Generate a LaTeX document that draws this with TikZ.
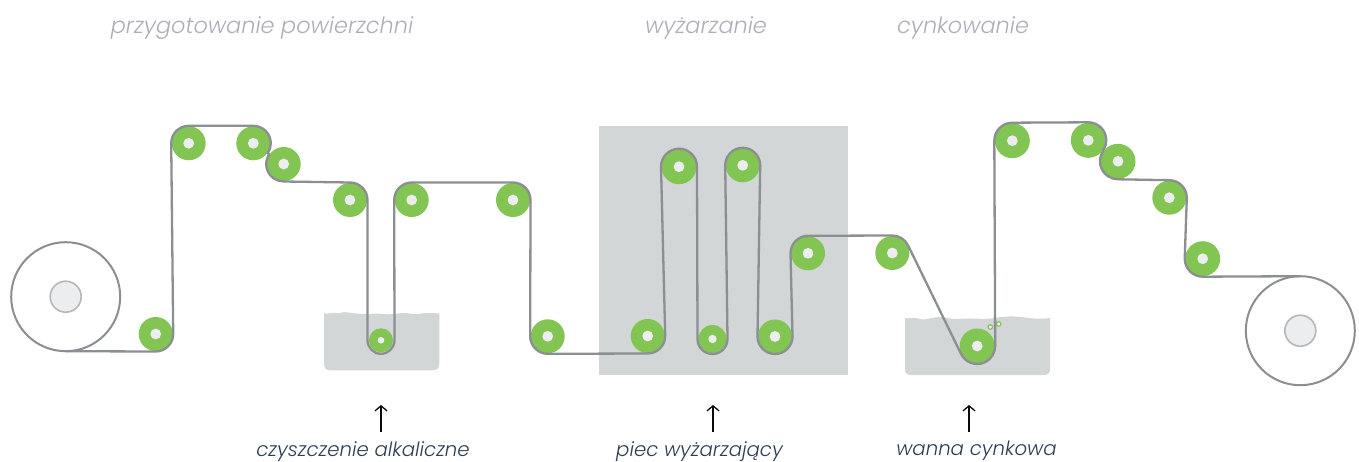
\documentclass[tikz,border=0pt]{standalone}
\usepackage{fontspec}
\setmainfont{Poppins}
\newfontfamily\lab{Poppins Light}[ItalicFont={Poppins Light Italic}]
\definecolor{beltc}{HTML}{8B8E92}
\definecolor{rollc}{HTML}{82C552}
\definecolor{holec}{HTML}{EBEDEE}
\definecolor{bathc}{HTML}{D2D6D6}
\definecolor{titlec}{HTML}{AEAEB9}
\definecolor{navyc}{HTML}{2C3E50}
\definecolor{hubc}{HTML}{B4B8BA}
\usetikzlibrary{arrows.meta}
\tikzset{
  x=1pt,y=1pt,
  roller/.style={circle,fill=rollc,inner sep=0pt,minimum size=#1,outer sep=0.5pt,
    path picture={\fill[holec] (path picture bounding box.center) circle (5.4pt);}},
  roller/.default=34pt,
  reel/.style={circle,draw=beltc,fill=white,line width=2pt,inner sep=0pt,minimum size=109pt,outer sep=0pt},
  hub/.style={circle,draw=hubc,fill=holec,line width=1.6pt,inner sep=0pt,minimum size=31pt},
  beltline/.style={draw=beltc,line width=2.3pt,line join=round,line cap=round},
  title/.style={font=\fontsize{22.4}{27}\selectfont\lab\itshape,text=titlec,inner sep=0pt},
  caption/.style={font=\fontsize{19.7}{25}\selectfont\lab\itshape,text=navyc,inner sep=0pt},
  uparrow/.style={draw=black!85!navyc,line width=1.3pt,-{Straight Barb[length=5pt,width=12pt]}},
}
\begin{document}
\begin{tikzpicture}
\useasboundingbox (0,0) rectangle (1359,461);
% baths
\fill[bathc] (598.7,85.7) rectangle (848,335.3);
\fill[bathc] (324,148) .. controls (327,146) and (331,149) .. (336,148) .. controls (340,146.5) and (342,150) .. (348,148.5) .. controls (362,146) and (372,148) .. (384,147) .. controls (392,146) and (398,148) .. (404,148) .. controls (408,148.5) and (412,146) .. (418,147) .. controls (426,148.5) and (432,148) .. (439.3,147.5) -- (439.3,97) .. controls (439.3,93) and (437,90.7) .. (433,90.7) -- (330,90.7) .. controls (326,90.7) and (324,93) .. (324,97) -- cycle;
\fill[bathc] (905,143) .. controls (908,141.5) and (912,144.5) .. (918,142.5) .. controls (924,140) and (930,143) .. (935,143.5) .. controls (945,145) and (950,141) .. (960,142) .. controls (970,143.5) and (985,141) .. (995,143) .. controls (1005,145) and (1015,145) .. (1025,143.5) .. controls (1035,142) and (1042,142) .. (1050,143) -- (1050,92) .. controls (1050,88) and (1048,86) .. (1044,86) -- (911,86) .. controls (907,86) and (905,88) .. (905,92) -- cycle;
% reels
\node[reel] (reelL) at (65.7,164.3) {};
\node[hub] (hubL) at (reelL.center) {};
\node[reel] (reelR) at (1300.3,130.3) {};
\node[hub] (hubR) at (reelR.center) {};
% rollers
\node[roller] (A1) at (155.7,127) {};
\node[roller] (A2) at (188.7,317.7) {};
\node[roller] (A3) at (253.3,317.7) {};
\node[roller] (A4) at (283.7,297) {};
\node[roller] (A5) at (350,261) {};
\node[roller=24pt,outer sep=1.5pt,path picture={\fill[holec] (path picture bounding box.center) circle (3.3pt);}] (S1) at (381,120.7) {};
\node[roller] (A6) at (411.7,261) {};
\node[roller] (A7) at (513,261) {};
\node[roller] (A8) at (547.7,124.7) {};
\node[roller] (F1) at (647.7,125) {};
\node[roller=35pt] (F2) at (679,294.3) {};
\node[roller=28pt,outer sep=1pt,path picture={\fill[holec] (path picture bounding box.center) circle (4.2pt);}] (F3) at (712.5,122) {};
\node[roller] (F4) at (742.7,295.7) {};
\node[roller] (F5) at (775,124.5) {};
\node[roller] (F6) at (808,207.7) {};
\node[roller] (G1) at (892.3,208) {};
\node[roller=35pt] (Z1) at (977.2,115) {};
\node[roller=35pt] (B1) at (1012.3,320.3) {};
\node[roller=35pt] (B2) at (1088.3,320.7) {};
\node[roller=35pt] (B3) at (1118,299.7) {};
\node[roller] (B4) at (1169.3,263.3) {};
\node[roller=35pt] (B5) at (1202.7,202.3) {};
% bubbles
\node[circle,draw=rollc,fill=holec,line width=1.2pt,minimum size=4.5pt,inner sep=0pt] (bub1) at (990.3,134) {};
\node[circle,draw=rollc,fill=holec,line width=1.2pt,minimum size=4.5pt,inner sep=0pt] (bub2) at (998.7,137) {};
% strip
\path[beltline]
 (reelL.south) -- (A1.south) arc[start angle=-90,end angle=0,radius=17.5]
 -- (A2.west) arc[start angle=180,end angle=90,radius=17.5]
 -- (A3.north) arc[start angle=90,end angle=-34,radius=17.5]
 -- (A4.146) arc[start angle=146,end angle=270,radius=17.5]
 -- (A5.north) arc[start angle=90,end angle=0,radius=17.5]
 -- (S1.west) arc[start angle=180,end angle=360,radius=13.5]
 -- (A6.west) arc[start angle=180,end angle=90,radius=17.5]
 -- (A7.north) arc[start angle=90,end angle=0,radius=17.5]
 -- (A8.west) arc[start angle=180,end angle=270,radius=17.5]
 -- (F1.south) arc[start angle=-90,end angle=0,radius=17.5]
 -- (F2.west) arc[start angle=180,end angle=0,radius=18]
 -- (F3.west) arc[start angle=180,end angle=360,radius=15]
 -- (F4.west) arc[start angle=180,end angle=0,radius=17.5]
 -- (F5.west) arc[start angle=180,end angle=360,radius=17.5]
 -- (F6.west) arc[start angle=180,end angle=90,radius=17.5]
 -- (G1.north) arc[start angle=90,end angle=25,radius=17.5]
 -- (Z1.205) arc[start angle=205,end angle=360,radius=18]
 -- (B1.west) arc[start angle=180,end angle=90,radius=18]
 -- (B2.north) arc[start angle=90,end angle=-34,radius=18]
 -- (B3.146) arc[start angle=146,end angle=270,radius=18]
 -- (B4.north) arc[start angle=90,end angle=0,radius=17.5]
 -- (B5.west) arc[start angle=180,end angle=270,radius=18]
 -- (reelR.north);
% labels
\node[title,anchor=base] (t1) at (262,427.5) {przygotowanie powierzchni};
\node[title,anchor=base] (t2) at (706,427.5) {wyżarzanie};
\node[title,anchor=base] (t3) at (963,427.5) {cynkowanie};
\node[caption,anchor=base] (c1) at (363,4.5) {czyszczenie alkaliczne};
\node[caption,anchor=base] (c2) at (699.5,4.5) {piec wyżarzający};
\node[caption,anchor=base] (c3) at (976.5,5.5) {wanna cynkowa};
\coordinate (a1) at (381,29);
\coordinate (a2) at (713,29);
\coordinate (a3) at (969,29);
\draw[uparrow] (a1) -- ++(0,27);
\draw[uparrow] (a2) -- ++(0,27);
\draw[uparrow] (a3) -- ++(0,27);
\end{tikzpicture}
\end{document}
